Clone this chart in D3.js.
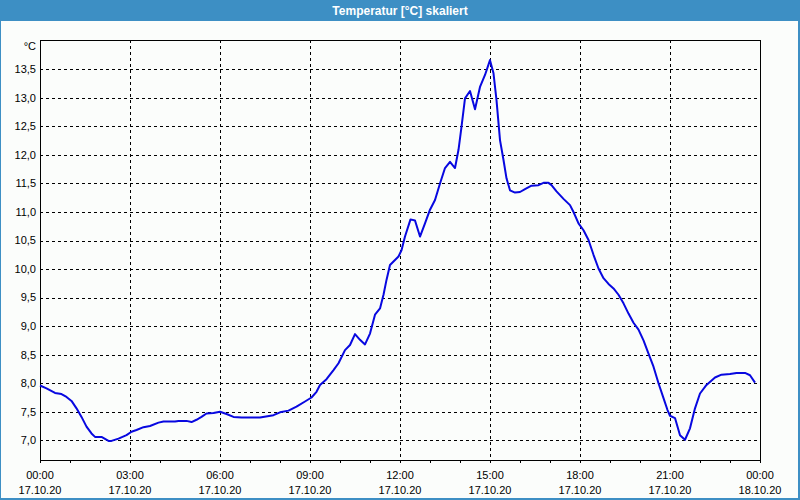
<!DOCTYPE html>
<html>
<head>
<meta charset="utf-8">
<script src="https://cdn.jsdelivr.net/npm/d3@7"></script>
<style>
  body { margin: 0; background: #fff; }
  svg { display: block; font-family: "Liberation Sans", Arial, sans-serif; }
</style>
</head>
<body>
<div class="chart"></div>
<script>
// DATA
// ----------------------------
const day = '2020-10-17'
const chartTitle = 'Temperatur [°C] skaliert'
const unitLabel = '°C'
const times = [
  '00:00', '00:13', '00:30', '00:43', '00:53', '01:03', '01:13', '01:23', '01:33', '01:43',
  '01:50', '02:03', '02:17', '02:23', '02:37', '02:53', '03:03', '03:13', '03:27', '03:40',
  '03:57', '04:07', '04:30', '04:37', '04:53', '05:03', '05:13', '05:23', '05:33', '05:47',
  '06:00', '06:13', '06:27', '06:43', '07:20', '07:47', '08:00', '08:17', '08:33', '08:50',
  '09:03', '09:13', '09:20', '09:33', '09:47', '09:57', '10:10', '10:20', '10:30', '10:40',
  '10:50', '11:00', '11:10', '11:20', '11:27', '11:33', '11:40', '11:50', '11:57', '12:03',
  '12:10', '12:21', '12:30', '12:40', '12:50', '13:00', '13:10', '13:20', '13:30', '13:40',
  '13:50', '13:57', '14:03', '14:10', '14:20', '14:30', '14:40', '14:50', '15:00', '15:07',
  '15:13', '15:20', '15:27', '15:33', '15:40', '15:50', '16:00', '16:10', '16:23', '16:37',
  '16:47', '16:57', '17:03', '17:13', '17:27', '17:40', '17:47', '17:57', '18:07', '18:17',
  '18:27', '18:37', '18:47', '18:57', '19:07', '19:17', '19:27', '19:37', '19:47', '19:57',
  '20:07', '20:17', '20:27', '20:37', '20:47', '20:55', '21:00', '21:10', '21:20', '21:30',
  '21:40', '21:50', '22:00', '22:13', '22:30', '22:43', '23:00', '23:13', '23:30', '23:40',
  '23:50'
]
const temps = [
  7.96, 7.91, 7.83, 7.81, 7.76, 7.69, 7.56, 7.41, 7.24, 7.12,
  7.06, 7.06, 6.99, 6.99, 7.03, 7.09, 7.15, 7.18, 7.23, 7.25,
  7.31, 7.33, 7.33, 7.34, 7.34, 7.32, 7.36, 7.41, 7.47, 7.48,
  7.50, 7.46, 7.41, 7.40, 7.40, 7.44, 7.49, 7.52, 7.59, 7.68,
  7.75, 7.85, 7.97, 8.07, 8.23, 8.35, 8.58, 8.67, 8.86, 8.76,
  8.68, 8.87, 9.20, 9.31, 9.55, 9.81, 10.07, 10.16, 10.22, 10.33,
  10.57, 10.87, 10.85, 10.57, 10.80, 11.04, 11.21, 11.50, 11.77, 11.88,
  11.77, 12.09, 12.49, 12.99, 13.12, 12.80, 13.19, 13.40, 13.66, 13.43,
  12.96, 12.26, 11.91, 11.59, 11.38, 11.34, 11.35, 11.40, 11.46, 11.47,
  11.51, 11.51, 11.47, 11.36, 11.23, 11.12, 11.00, 10.80, 10.68, 10.51,
  10.25, 10.01, 9.84, 9.74, 9.66, 9.55, 9.40, 9.22, 9.06, 8.94,
  8.75, 8.52, 8.29, 8.00, 7.74, 7.53, 7.43, 7.39, 7.09, 7.01,
  7.21, 7.56, 7.82, 7.97, 8.10, 8.15, 8.16, 8.18, 8.18, 8.14,
  8.01
]
const yTicks = [7.0, 7.5, 8.0, 8.5, 9.0, 9.5, 10.0, 10.5, 11.0, 11.5, 12.0, 12.5, 13.0, 13.5]
const yMin = 6.655
const yMax = 14.013

// SETUP
// ----------------------------
const fullWidth = 800
const fullHeight = 500
const margin = { top: 40, bottom: 40, left: 40, right: 40 }
const width = fullWidth - margin.left - margin.right
const height = fullHeight - margin.top - margin.bottom

const parse = d3.timeParse('%Y-%m-%d %H:%M')
const data = times.map((t, i) => ({ date: parse(`${day} ${t}`), value: temps[i] }))

const svg = d3.select('.chart')
  .append('svg')
    .attr('width', fullWidth)
    .attr('height', fullHeight)

// window frame + title bar
svg.append('rect')
  .attr('x', 0).attr('y', 0)
  .attr('width', fullWidth).attr('height', fullHeight)
  .style('fill', '#3d8fc4')
svg.append('rect')
  .attr('x', 1).attr('y', 21)
  .attr('width', fullWidth - 3).attr('height', fullHeight - 23)
  .style('fill', '#fbfdfb')
svg.append('text')
  .attr('x', fullWidth / 2).attr('y', 14.5)
  .attr('text-anchor', 'middle')
  .style('font-size', '12px')
  .style('font-weight', 'bold')
  .style('fill', '#fff')
  .text(chartTitle)

const g = svg.append('g')
  .attr('transform', `translate(${margin.left}, ${margin.top})`)

// SCALES
// ----------------------------
const xScale = d3.scaleTime()
  .domain([parse(`${day} 00:00`), d3.timeDay.offset(parse(`${day} 00:00`), 1)])
  .range([0, width])
const yScale = d3.scaleLinear()
  .domain([yMin, yMax])
  .range([height, 0])

const fmtNum = d3.formatLocale({ decimal: ',', thousands: '.', grouping: [3], currency: ['', '€'] }).format('.1f')

// GRID
// ----------------------------
const hours3 = xScale.ticks(d3.timeHour.every(3))
g.selectAll('.vgrid')
  .data(hours3.slice(1, -1))
  .enter()
  .append('line')
  .attr('x1', d => Math.round(xScale(d)) + 0.5)
  .attr('x2', d => Math.round(xScale(d)) + 0.5)
  .attr('y1', 0).attr('y2', height)
  .style('stroke', '#000')
  .style('stroke-dasharray', '3,3')
g.selectAll('.hgrid')
  .data(yTicks)
  .enter()
  .append('line')
  .attr('x1', 0).attr('x2', width)
  .attr('y1', d => Math.round(yScale(d)) + 0.5)
  .attr('y2', d => Math.round(yScale(d)) + 0.5)
  .style('stroke', '#000')
  .style('stroke-dasharray', '3,3')

// AXES
// ----------------------------
const xAxis = d3.axisBottom(xScale)
  .ticks(d3.timeHour.every(1))
  .tickSize(3)
  .tickFormat('')
g.append('g')
  .attr('transform', `translate(0, ${height})`)
  .call(xAxis)
  .call(a => a.select('.domain').remove())
  .selectAll('line').style('stroke', '#000')

g.selectAll('.xlab')
  .data(hours3)
  .enter()
  .append('text')
  .attr('x', d => xScale(d))
  .attr('y', height + 19)
  .attr('text-anchor', 'middle')
  .style('font-size', '11px')
  .style('fill', '#000')
  .call(t => t.append('tspan').text(d => d3.timeFormat('%H:%M')(d)))
  .call(t => t.append('tspan')
    .attr('x', d => xScale(d))
    .attr('dy', 15)
    .text(d => d3.timeFormat('%d.%m.%y')(d)))

g.selectAll('.ylab')
  .data(yTicks)
  .enter()
  .append('text')
  .attr('x', -4)
  .attr('y', d => yScale(d))
  .attr('dy', '0.35em')
  .attr('text-anchor', 'end')
  .style('font-size', '11px')
  .style('fill', '#000')
  .text(d => fmtNum(d))

g.append('text')
  .attr('x', -4).attr('y', 10)
  .attr('text-anchor', 'end')
  .style('font-size', '11px')
  .style('fill', '#000')
  .text(unitLabel)

// plot frame
g.append('rect')
  .attr('x', 0.5).attr('y', 0.5)
  .attr('width', width).attr('height', height)
  .style('fill', 'none')
  .style('stroke', '#000')

// LINE
// ----------------------------
const line = d3.line()
  .x(d => xScale(d.date))
  .y(d => yScale(d.value))
g.append('path')
  .datum(data)
  .attr('d', line)
  .style('fill', 'none')
  .style('stroke', '#0808e0')
  .style('stroke-width', 2)
  .style('stroke-linejoin', 'round')
</script>
</body>
</html>
